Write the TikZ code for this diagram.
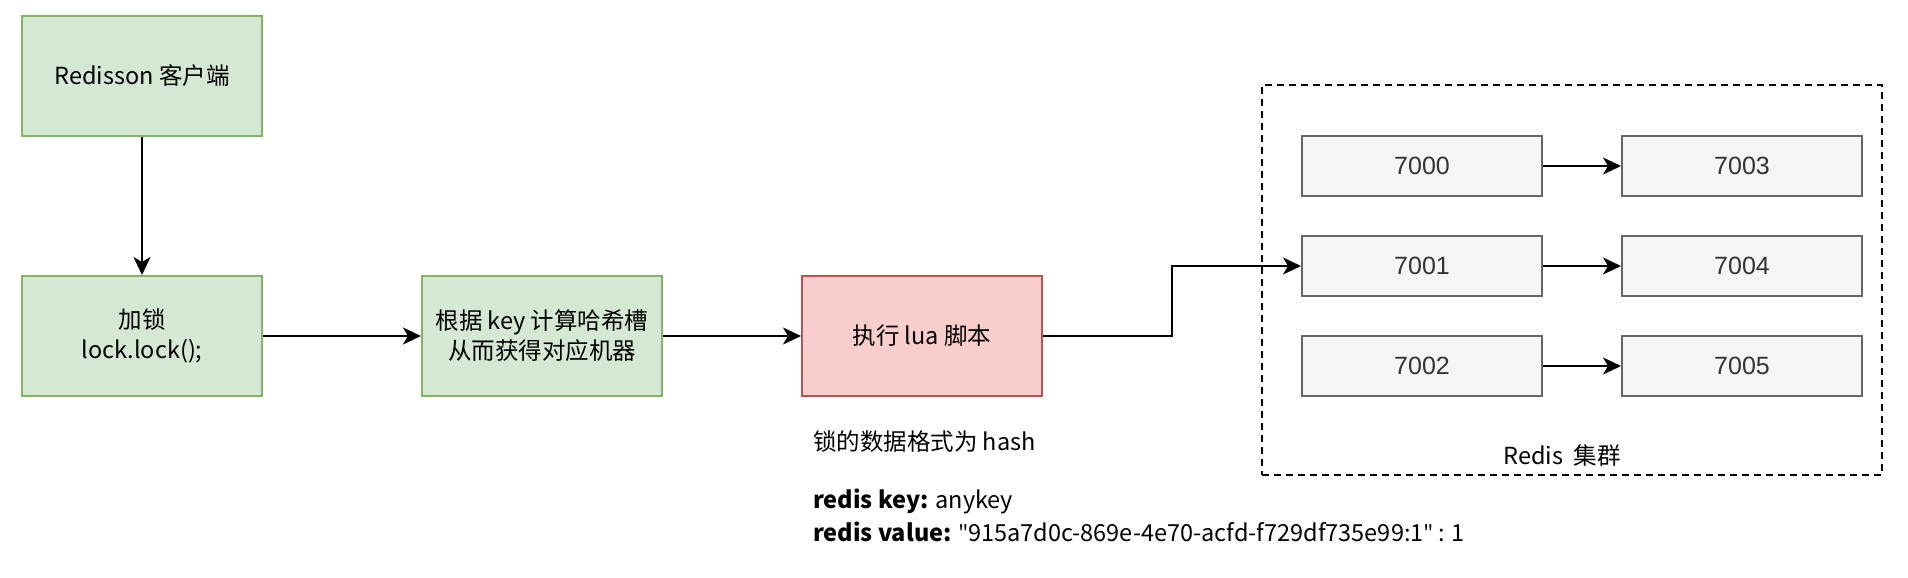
\documentclass[tikz,border=0pt]{standalone}
\usepackage{fontspec}
\setmainfont{Noto Sans CJK SC}
\newfontfamily\numfont{Liberation Sans}
\newfontfamily\lat{Open Sans}
\usetikzlibrary{arrows.meta}
\definecolor{gfill}{HTML}{D5E8D4}
\definecolor{gline}{HTML}{82B366}
\definecolor{rfill}{HTML}{F8CECC}
\definecolor{rline}{HTML}{B85450}
\definecolor{hfill}{HTML}{F5F5F5}
\definecolor{hline}{HTML}{666666}
\definecolor{htext}{HTML}{333333}
\newcommand{\dq}{{\lat\symbol{34}}}
\begin{document}
\begin{tikzpicture}[x=1pt,y=-1pt,
  every node/.style={font=\fontsize{23.5}{30}\selectfont},
  greenbox/.style={draw=gline,fill=gfill,line width=2pt,minimum width=240pt,minimum height=120pt,align=center,inner sep=0pt},
  redbox/.style={draw=rline,fill=rfill,line width=2pt,minimum width=240pt,minimum height=120pt,align=center,inner sep=0pt},
  graybox/.style={draw=hline,fill=hfill,line width=2pt,minimum width=240pt,minimum height=60pt,text=htext,font=\numfont\fontsize{25}{28}\selectfont,inner sep=0pt},
  arr/.style={line width=2pt,-{Stealth[length=18pt,width=17pt,inset=5pt]}},
  txt/.style={anchor=west,inner sep=0pt}]
\useasboundingbox (0,0) rectangle (1908,578);
\fill[white] (0,0) rectangle (1908,578);
% container
\node[draw,line width=1.6pt,minimum width=620pt,minimum height=390pt,inner sep=0pt,dash pattern=on 7pt off 5pt] (cluster) at (1572,280) {};
\node[inner sep=0pt] (clabel) at (1562,456) {Redis\ \ 集群};
% main nodes
\node[greenbox] (client) at (142,76) {Redisson 客户端};
\node[greenbox] (lock) at (142,336) {加锁\\lock.lock();};
\node[greenbox] (hash) at (542,336) {根据 key 计算哈希槽\\从而获得对应机器};
\node[redbox] (lua) at (922,336) {执行 lua 脚本};
% cluster nodes
\node[graybox] (n7000) at (1422,166) {7000};
\node[graybox] (n7003) at (1742,166) {7003};
\node[graybox] (n7001) at (1422,266) {7001};
\node[graybox] (n7004) at (1742,266) {7004};
\node[graybox] (n7002) at (1422,366) {7002};
\node[graybox] (n7005) at (1742,366) {7005};
% text
\node[txt] (t1) at (813,442) {锁的数据格式为 hash};
\node[txt] (t2) at (813,501) {\textbf{redis key:} anykey};
\node[txt] (t3) at (813,532) {\textbf{redis value:} \dq915a7d0c-869e-4e70-acfd-f729df735e99:1\dq\ : 1};
% connectors
\draw[arr] (client) -- (lock);
\draw[arr] (lock) -- (hash);
\draw[arr] (hash) -- (lua);
\coordinate (elbow) at (1172,336);
\draw[arr] (lua.east) -- (elbow) |- (n7001.west);
\draw[arr] (n7000) -- (n7003);
\draw[arr] (n7001) -- (n7004);
\draw[arr] (n7002) -- (n7005);
\end{tikzpicture}
\end{document}
